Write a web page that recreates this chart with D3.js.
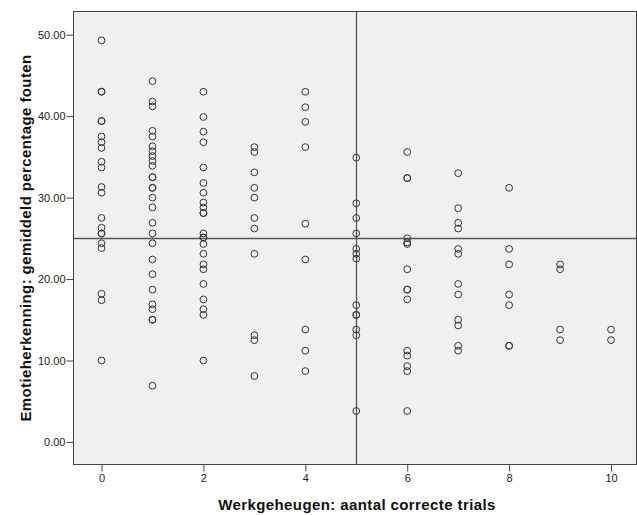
<!DOCTYPE html>
<html><head><meta charset="utf-8">
<script src="https://cdn.jsdelivr.net/npm/d3@7"></script>
<style>body{margin:0;background:#fff} svg{display:block}</style>
</head><body><svg id="c" width="637" height="515"></svg>
<script>
// Werkgeheugen (aantal correcte trials) per column, and Emotieherkenning (% fouten) values
const trialValues = [0, 1, 2, 3, 4, 5, 6, 7, 8, 9, 10];
const errorsAt0 = [49.3, 43.0, 43.0, 39.4, 39.4, 37.5, 36.8, 36.1, 34.4, 33.7, 31.3, 30.6, 27.5, 26.3, 25.6, 25.6, 24.4, 23.8, 18.2, 17.4, 10.0];
const errorsAt1 = [44.3, 41.8, 41.2, 38.2, 37.5, 36.3, 35.7, 35.1, 34.5, 33.9, 32.5, 32.5, 31.2, 31.2, 30.0, 28.8, 26.9, 25.6, 24.4, 22.4, 20.6, 18.7, 16.9, 16.3, 15.0, 15.0, 6.9];
const errorsAt2 = [43.0, 39.9, 38.1, 36.8, 33.7, 31.8, 30.6, 29.4, 28.8, 28.1, 28.1, 25.6, 25.1, 25.1, 24.3, 23.1, 21.8, 21.2, 19.4, 17.5, 16.3, 15.6, 10.0];
const errorsAt3 = [36.2, 35.6, 33.1, 31.2, 30.0, 27.5, 26.2, 23.1, 13.1, 12.5, 8.1];
const errorsAt4 = [43.0, 41.1, 39.3, 36.2, 26.8, 22.4, 13.8, 11.2, 8.7];
const errorsAt5 = [34.9, 29.3, 27.5, 25.6, 23.7, 23.1, 22.5, 16.8, 15.6, 15.6, 13.8, 13.1, 3.8];
const errorsAt6 = [35.6, 32.4, 32.4, 25.0, 24.5, 24.3, 21.2, 18.7, 18.7, 17.5, 11.2, 10.6, 9.3, 8.7, 3.8];
const errorsAt7 = [33.0, 28.7, 26.9, 26.2, 23.7, 23.1, 19.4, 18.1, 15.0, 14.3, 11.8, 11.2];
const errorsAt8 = [31.2, 23.7, 21.8, 18.1, 16.8, 11.8, 11.8];
const errorsAt9 = [21.8, 21.2, 13.8, 12.5];
const errorsAt10 = [13.8, 12.5];
const errorColumns = [errorsAt0, errorsAt1, errorsAt2, errorsAt3, errorsAt4, errorsAt5, errorsAt6, errorsAt7, errorsAt8, errorsAt9, errorsAt10];

const xTicks = [0, 2, 4, 6, 8, 10];
const yTicks = [0, 10, 20, 30, 40, 50];
const xDomain = [-0.55, 10.5];
const yDomain = [-2.77, 52.85];
const refX = 5;
const refY = 25;
const xTitle = "Werkgeheugen: aantal correcte trials";
const yTitle = "Emotieherkenning: gemiddeld percentage fouten";

const points = [];
trialValues.forEach((t, i) => errorColumns[i].forEach(v => points.push({x: t, y: v})));

const svg = d3.select("#c");
const font = "'Liberation Sans', Arial, sans-serif";
const pLeft = 73.5, pRight = 636.5, pTop = 11.5, pBottom = 464.5;

const x = d3.scaleLinear().domain(xDomain).range([pLeft, pRight]);
const y = d3.scaleLinear().domain(yDomain).range([pBottom, pTop]);

// plot background
svg.append("rect").attr("x", pLeft).attr("y", pTop)
  .attr("width", pRight - pLeft).attr("height", pBottom - pTop)
  .attr("fill", "#f0f0f0").attr("stroke", "none");

// reference lines
svg.append("line").attr("x1", pLeft).attr("x2", pRight)
  .attr("y1", Math.round(y(refY)) + 0.5).attr("y2", Math.round(y(refY)) + 0.5)
  .attr("stroke", "#555").attr("stroke-width", 1.3);
svg.append("line").attr("y1", pTop).attr("y2", pBottom)
  .attr("x1", Math.round(x(refX)) + 0.5).attr("x2", Math.round(x(refX)) + 0.5)
  .attr("stroke", "#555").attr("stroke-width", 1.3);

// points
svg.append("g").selectAll("circle").data(points).join("circle")
  .attr("cx", d => x(d.x)).attr("cy", d => y(d.y)).attr("r", 3.4)
  .attr("fill", "none").attr("stroke", "#333").attr("stroke-width", 1);

// frame
svg.append("rect").attr("x", pLeft).attr("y", pTop)
  .attr("width", pRight - pLeft).attr("height", pBottom - pTop)
  .attr("fill", "none").attr("stroke", "#444").attr("stroke-width", 1);

// axes
const yAxis = svg.append("g").attr("transform", `translate(${pLeft},0)`)
  .call(d3.axisLeft(y).tickValues(yTicks).tickFormat(d3.format(".2f")).tickSize(7).tickPadding(1));
const xAxis = svg.append("g").attr("transform", `translate(0,${pBottom})`)
  .call(d3.axisBottom(x).tickValues(xTicks).tickFormat(d3.format("d")).tickSize(7).tickPadding(3));
[yAxis, xAxis].forEach(g => {
  g.select(".domain").remove();
  g.selectAll(".tick line").attr("stroke", "#444");
  g.selectAll(".tick text").attr("fill", "#222").style("font-family", font).style("font-size", "11px");
});

// titles
svg.append("text").attr("x", (pLeft + pRight) / 2 + 2).attr("y", 510)
  .attr("text-anchor", "middle").style("font-family", font).style("font-size", "15px")
  .style("font-weight", "bold").style("letter-spacing", "0.4px").attr("fill", "#111")
  .text(xTitle);
svg.append("text").attr("transform", `translate(31,${(pTop + pBottom) / 2}) rotate(-90)`)
  .attr("text-anchor", "middle").style("font-family", font).style("font-size", "15px")
  .style("font-weight", "bold").style("letter-spacing", "0.4px").attr("fill", "#111")
  .text(yTitle);
</script>
</body></html>
